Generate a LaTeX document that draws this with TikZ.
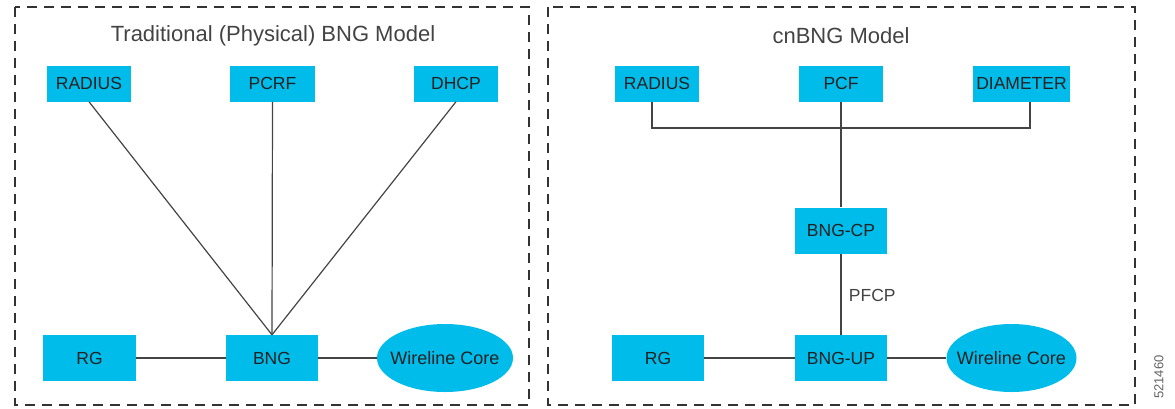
\documentclass[tikz,border=0pt]{standalone}
\usepackage{fontspec}
\setmainfont{Liberation Sans}
\usetikzlibrary{shapes.geometric,calc}
\definecolor{cisco}{HTML}{00BCEB}
\definecolor{txt}{HTML}{222222}
\definecolor{frame}{HTML}{333333}
\definecolor{wire}{HTML}{444444}
\newcommand{\corelabel}[1]{\makebox[0pt]{#1}}
\tikzset{
  blk/.style={fill=cisco, draw=none, inner sep=0pt, minimum width=#1, minimum height=36pt,
    text=txt, font=\fontsize{17.5}{20}\selectfont},
  lowblk/.style={blk=#1, minimum height=46pt},
  core/.style={ellipse, fill=cisco, draw=none, inner sep=0pt, minimum width=#1, minimum height=68pt,
    text=txt, font=\fontsize{18}{20}\selectfont},
  group/.style={draw=frame, line width=2.5pt, dash pattern=on 10pt off 7pt},
  ttl/.style={text=txt!85, font=\fontsize{22}{26}\selectfont},
  wirel/.style={draw=wire, line width=1.2pt},
}
\begin{document}
\begin{tikzpicture}[x=1pt,y=-1pt]
\useasboundingbox (0,0) rectangle (1175,408);
% group frames
\draw[group] (15,7) rectangle (529,405);
\draw[group] (548,7) rectangle (1135,405);
\node[ttl] (t1) at (273,36) {Traditional (Physical) BNG Model};
\node[ttl] (t2) at (841,36) {cnBNG Model};
% left model
\node[blk=84pt] (rad1) at (89,83.5) {RADIUS};
\node[blk=85pt] (pcrf) at (272.5,83.5) {PCRF};
\node[blk=84pt] (dhcp) at (456,83.5) {DHCP};
\node[lowblk=93pt] (rg1) at (89.5,358) {RG};
\node[lowblk=92pt] (bng) at (272,358) {BNG};
\node[core=136pt] (wc1) at (445,358) {\corelabel{Wireline Core}};
\draw[wirel] (rad1.south) -- (bng.north);
\draw[wirel] (pcrf.south) -- (bng.north);
\draw[wirel] (dhcp.south) -- (bng.north);
\draw[wirel] (rg1.east) -- (bng.west);
\draw[wirel] (bng.east) -- (wc1.west);
% right model
\node[blk=84pt] (rad2) at (657,83.5) {RADIUS};
\node[blk=84pt] (pcf) at (841,83.5) {PCF};
\node[blk=97pt] (dia) at (1021.5,83.5) {DIAMETER};
\node[lowblk=92pt] (cp) at (841,230.5) {BNG-CP};
\node[lowblk=92pt] (up) at (841,358) {BNG-UP};
\node[lowblk=92pt] (rg2) at (658,358) {RG};
\node[core=130pt] (wc2) at (1011.5,358) {\corelabel{Wireline Core}};
\coordinate (bus) at (841,128);
\draw[wirel] ($(rad2.south)+(-5,0)$) |- (bus) -| ($(dia.south)+(8.5,0)$);
\draw[wirel] (pcf.south) -- (cp.north);
\draw[wirel] (cp.south) -- node[right=4pt, pos=0.52, text=txt!85, font=\fontsize{17.5}{20}\selectfont] (pfcp) {PFCP} (up.north);
\draw[wirel] (rg2.east) -- (up.west);
\draw[wirel] (up.east) -- (wc2.west);
\node[rotate=90, text=txt!70, font=\fontsize{13}{15}\selectfont] (fig) at (1159,377) {521460};
\end{tikzpicture}
\end{document}
